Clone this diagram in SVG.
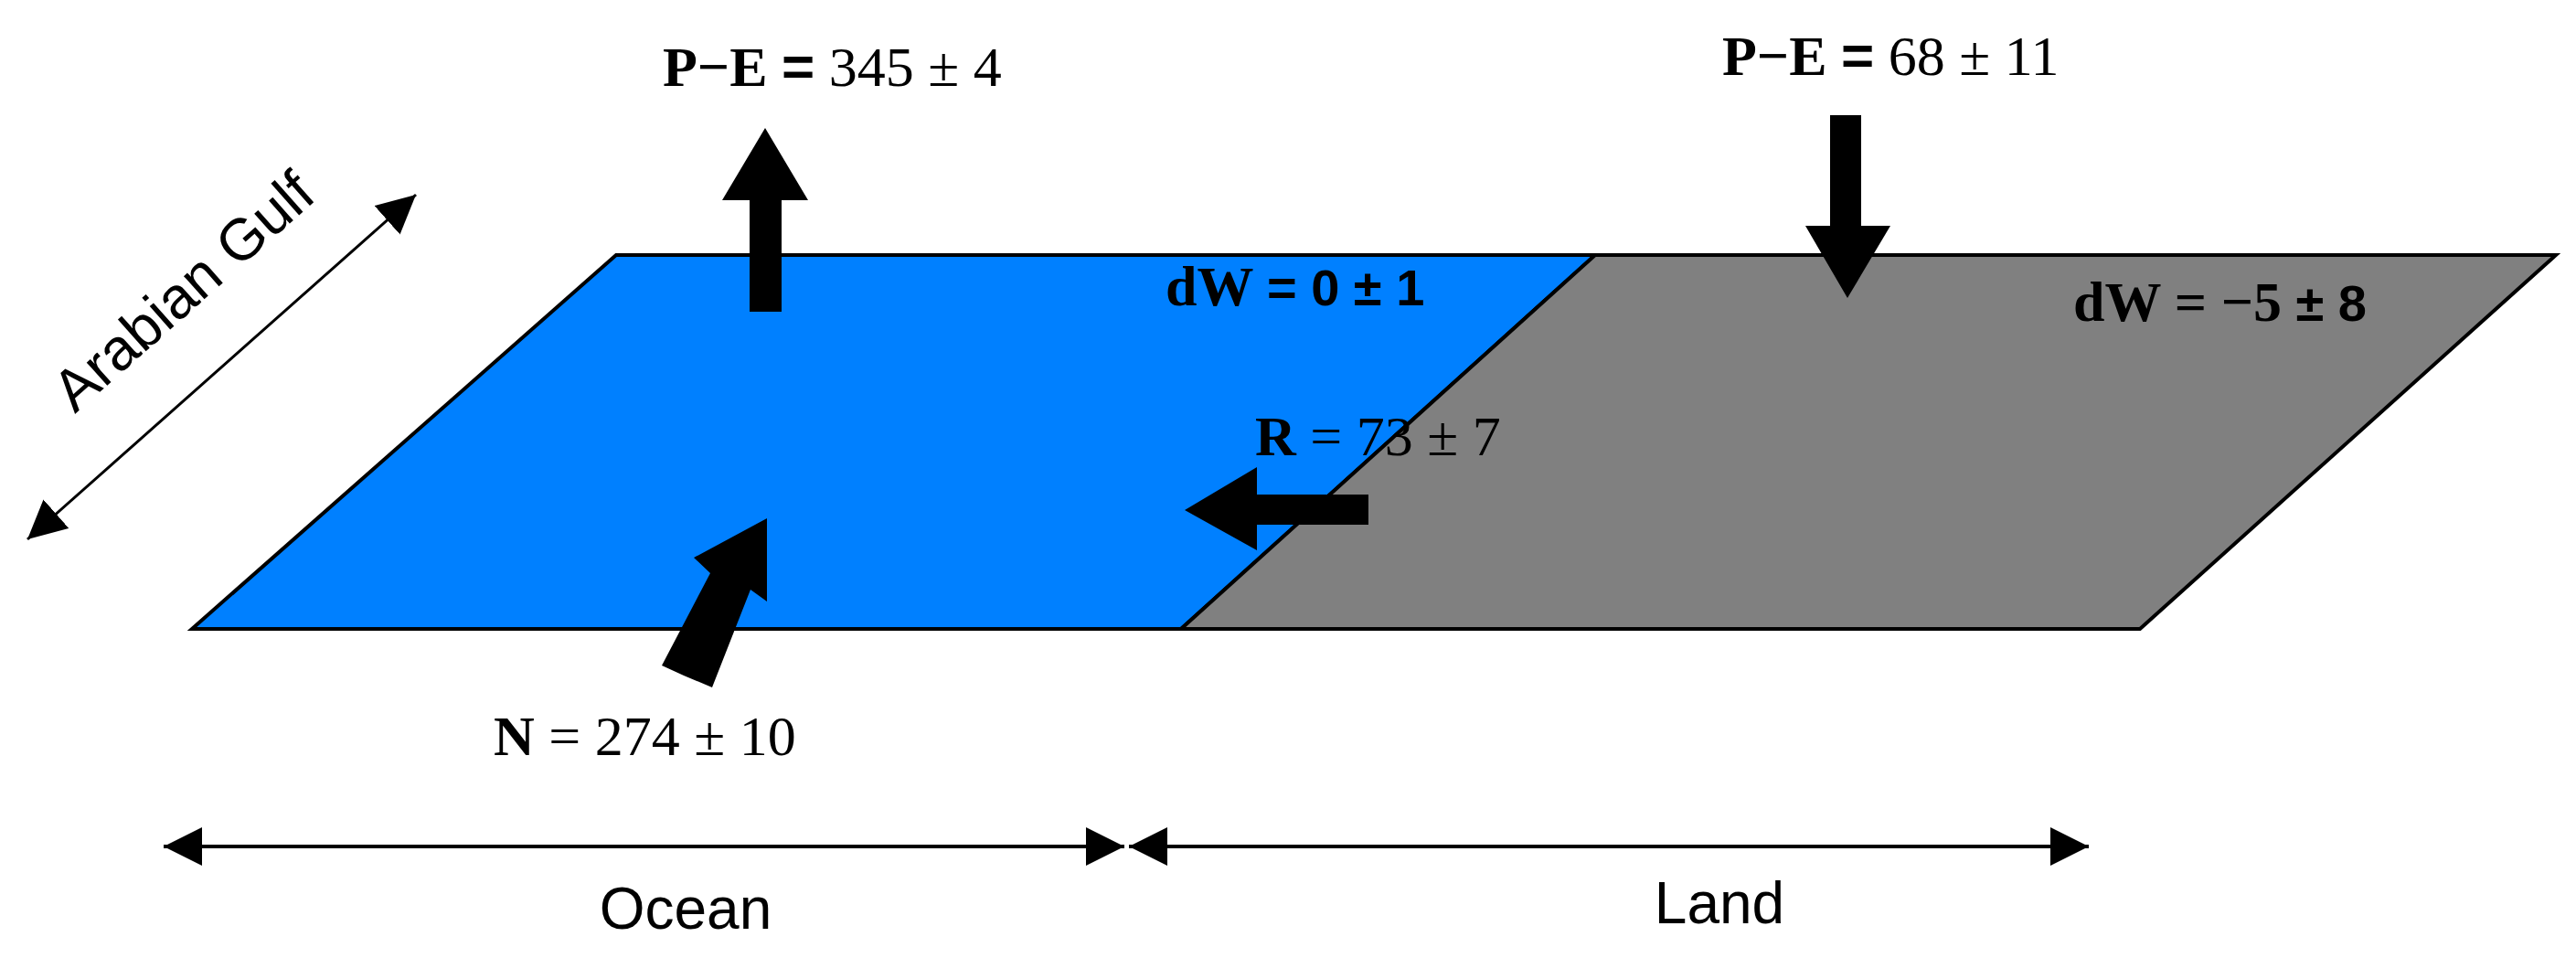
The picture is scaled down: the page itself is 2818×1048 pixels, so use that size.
<svg xmlns="http://www.w3.org/2000/svg" width="2818" height="1048" viewBox="0 0 2818 1048">
<style>
.m{font-family:"Liberation Serif","DejaVu Serif",serif;font-size:62px;fill:#000}
.b{font-weight:bold}
.s{font-family:"Liberation Sans",Arial,sans-serif;font-size:64px;fill:#000}
.ln{stroke:#000;stroke-width:4;fill:none}
</style>
<defs>
<marker id="ah" viewBox="0 0 10 10" refX="10" refY="5" markerWidth="10" markerHeight="10" markerUnits="userSpaceOnUse" orient="auto-start-reverse"><path d="M0,0L10,5L0,10z" fill="#000"/></marker>
<marker id="ah2" viewBox="0 0 10 10" refX="10" refY="5" markerWidth="42" markerHeight="42" markerUnits="userSpaceOnUse" orient="auto-start-reverse"><path d="M0,0L10,5L0,10z" fill="#000"/></marker>
</defs>
<g id="ocean"><polygon points="674,279 1745,279 1292,688 210,688" fill="#0080FF" stroke="#000" stroke-width="4"/></g>
<g id="land"><polygon points="1745,279 2796,279 2341,688 1292,688" fill="#808080" stroke="#000" stroke-width="4"/></g>
<g id="connectors">
<polygon points="820,341 855,341 855,219 884,219 837,140 790,219 820,219" fill="#000"/>
<polygon points="2002,126 2036,126 2036,247 2068,247 2021,326 1975,247 2002,247" fill="#000"/>
<polygon points="1497,541 1497,574 1375,574 1375,602 1296,558 1375,511 1375,541" fill="#000"/>
<polygon points="748,739 779,752 821,645 839,658 839,567 759,610 777,627 724,728" fill="#000"/>
<line class="ln" x1="30" y1="590" x2="455" y2="213" marker-start="url(#ah2)" marker-end="url(#ah2)" style="stroke-width:3"/>
<line class="ln" x1="179" y1="926" x2="1230" y2="926" marker-start="url(#ah2)" marker-end="url(#ah2)"/>
<line class="ln" x1="1235" y1="926" x2="2285" y2="926" marker-start="url(#ah2)" marker-end="url(#ah2)"/>
</g>
<g id="labels">
<text class="m" x="725" y="94"><tspan class="b">P−E</tspan> <tspan class="b" font-family="Liberation Sans">=</tspan> 345 ± 4</text>
<text class="m" x="1884" y="82"><tspan class="b">P−E</tspan> <tspan class="b" font-family="Liberation Sans">=</tspan> 68 ± 11</text>
<text class="m" x="540" y="826"><tspan class="b">N</tspan> = 274 ± 10</text>
<text class="m b" x="1275" y="334">dW <tspan font-family="Liberation Sans" font-size="56"> = 0 ± 1</tspan></text>
<text class="m b" x="2268" y="351" fill="#222">dW = −5 <tspan font-family="Liberation Sans" font-size="56">± 8</tspan></text>
<text class="m" x="1373" y="498"><tspan class="b">R</tspan>  = 73  ± 7</text>
<text class="s" x="750" y="1016" text-anchor="middle">Ocean</text>
<text class="s" x="1881" y="1010" text-anchor="middle">Land</text>
<text class="s" x="215" y="335" text-anchor="middle" transform="rotate(-41.6 215 335)">Arabian Gulf</text>
</g>
</svg>
